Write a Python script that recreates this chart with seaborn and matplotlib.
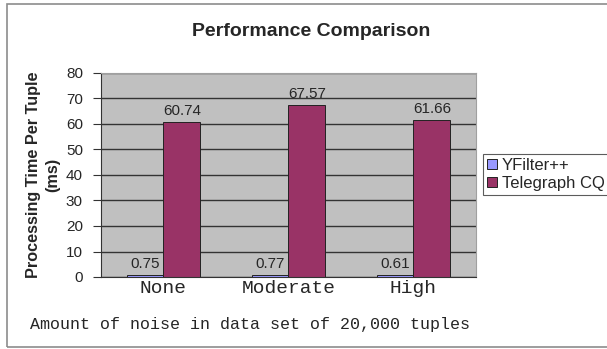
import pandas as pd
import seaborn as sns
import matplotlib.pyplot as plt
from matplotlib.patches import Rectangle

# datos
niveles = ["None", "Moderate", "High"]
yfilter = [0.75, 0.77, 0.61]
telegraph = [60.74, 67.57, 61.66]
series = ["YFilter++", "Telegraph CQ"]

df = pd.DataFrame({
    "noise": niveles * 2,
    "time": yfilter + telegraph,
    "system": [series[0]] * 3 + [series[1]] * 3,
})

sns.set_style("white")
plt.rcParams['font.family'] = ['Liberation Sans', 'DejaVu Sans']

fig = plt.figure(figsize=(6.07, 3.49), dpi=100)
ax = fig.add_axes([101 / 607, 1 - 277 / 349, 375 / 607, 204 / 349])

# borde exterior del area del grafico
fig.patches.append(Rectangle((7 / 607, 2 / 349), 620 / 607, 343 / 349,
                             transform=fig.transFigure, fill=False,
                             edgecolor="#8c8c8c", linewidth=1.2))

sns.barplot(data=df, x="noise", y="time", hue="system",
            palette=["#9999ff", "#993366"], saturation=1, width=0.59, gap=0,
            edgecolor="#222222", linewidth=0.7, ax=ax, legend=True)

ax.set_facecolor("#c0c0c0")
ax.set_ylim(0, 80)
ax.set_yticks(range(0, 81, 10))
ax.yaxis.grid(True, color="#333333", linewidth=1)
ax.set_axisbelow(True)
for s in ["top", "right"]:
    ax.spines[s].set_color("#a0a0a0")
for s in ["left", "bottom"]:
    ax.spines[s].set_color("#333333")
ax.tick_params(axis="y", labelsize=11, length=6, left=True, color="#333333", pad=7)
ax.tick_params(axis="x", length=0, pad=2)
for lbl in ax.get_xticklabels():
    lbl.set_family("Liberation Mono")
    lbl.set_fontsize(14)

for c in ax.containers:
    ax.bar_label(c, labels=[f"{v:.2f}" for v in c.datavalues],
                 padding=3, fontsize=11)

ax.set_xlabel("Amount of noise in data set of 20,000 tuples",
              family="Liberation Mono", fontsize=12)
ax.xaxis.set_label_coords(0.397, -0.195)
ax.set_ylabel("Processing Time Per Tuple\n(ms)", fontsize=11.7,
              fontweight="bold", labelpad=4, linespacing=1.4)

fig.text(311 / 607, 1 - 31 / 349, "Performance Comparison",
         ha="center", va="center", fontsize=14, fontweight="bold")

leg = ax.legend(loc="upper left", bbox_to_anchor=(1.018, 0.605),
                frameon=True, fontsize=12, handlelength=0.6,
                handleheight=0.6, handletextpad=0.3, borderpad=0.25,
                fancybox=False, edgecolor="#333333", labelspacing=0.2,
                borderaxespad=0)
leg.get_frame().set_linewidth(0.8)

plt.savefig("out.png", dpi=100)
